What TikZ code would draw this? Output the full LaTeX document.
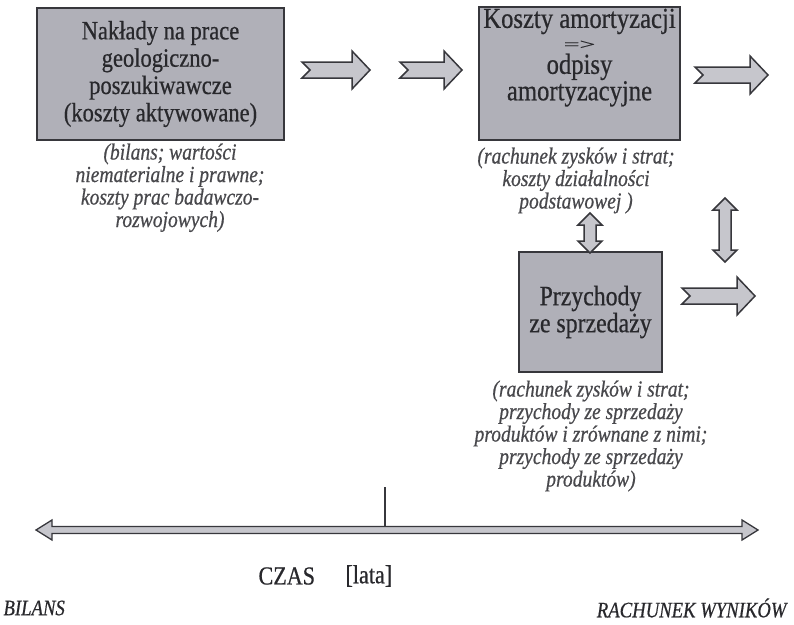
\documentclass[tikz,border=0pt]{standalone}
\usepackage[RGB]{xcolor}
\usepackage{fontspec}
\setmainfont{Liberation Serif}[FakeStretch=0.85, FakeBold=0.6]
\usepackage{tikz}
\usetikzlibrary{calc}
\definecolor{boxgray}{RGB}{176,176,184}
\definecolor{arrowgray}{RGB}{198,198,204}
\definecolor{edge}{RGB}{55,55,60}
\definecolor{ink}{RGB}{40,40,44}
\tikzset{
  box/.style={draw=edge, line width=2pt, fill=boxgray, text=ink, align=center, inner sep=0pt},
  boxtekst/.style={text=ink, align=center, inner sep=0pt, font=\fontsize{29}{23}\selectfont},
  opis/.style={text=ink!85, align=center, font=\fontsize{23}{22.5}\selectfont\itshape},
  arrowshape/.style={draw=edge, line width=1.5pt, fill=arrowgray, line join=miter},
}
\newcommand{\blockarrow}[4]{
  \coordinate (#1) at (#2,#3);
  \draw[arrowshape] (#1) ++(0,-8) -- ++(#4-18,0) -- ++(0,-11) -- ++(18,19) -- ++(-18,19) -- ++(0,-11) -- ++(-#4+18,0) -- ++(8,-8) -- cycle;
}
\newcommand{\vdoublearrow}[4]{
  \coordinate (#1) at (#2,#3);
  \draw[arrowshape] (#1) -- ++(12,12) -- ++(-6,0) -- ++(0,#4-24) -- ++(6,0) -- ++(-12,12) -- ++(-12,-12) -- ++(6,0) -- ++(0,-#4+24) -- ++(-6,0) -- cycle;
}

\begin{document}
\begin{tikzpicture}[x=1pt, y=-1pt]
\useasboundingbox (0,0) rectangle (794,624);
% prostokaty
\node[box, minimum width=247, minimum height=132, font=\fontsize{26.5}{27.3}\selectfont] (naklady) at (160.5,74)
  {Nakłady na prace\\geologiczno-\\poszukiwawcze\\(koszty aktywowane)};
\node[box, minimum width=201, minimum height=133] (amort) at (579.5,73.5) {};
\node[boxtekst, anchor=north] (amort-t1) at (579.5,8.5) {Koszty amortyzacji};
\node[boxtekst, font=\fontsize{15}{15}\selectfont] (amort-t2) at (579.5,45) {\scalebox{2.2}[1]{=>}};
\node[boxtekst, anchor=north] (amort-t3) at (579.5,53.5) {odpisy\\amortyzacyjne};
\node[box, minimum width=143, minimum height=120, font=\fontsize{28}{27}\selectfont] (przych) at (590.5,312)
  {Przychody\\ze sprzedaży};
% opisy
\node[opis, anchor=north] (naklady-opis) at (170,140)
  {(bilans; wartości\\niematerialne i prawne;\\koszty prac badawczo-\\rozwojowych)};
\node[opis, anchor=north] (amort-opis) at (576,144)
  {(rachunek zysków i strat;\\koszty działalności\\podstawowej )};
\node[opis, anchor=north] (przych-opis) at (591,377)
  {(rachunek zysków i strat;\\przychody ze sprzedaży\\produktów i zrównane z nimi;\\przychody ze sprzedaży\\produktów)};
% strzalki
\blockarrow{s1}{302}{70}{68}
\blockarrow{s2}{400}{70}{62}
\blockarrow{s3}{695}{75}{73}
\blockarrow{s4}{682}{296}{73}
\vdoublearrow{d1}{590}{213}{40}
\vdoublearrow{d2}{725}{198}{64}
% os czasu
\coordinate (osL) at (36,530);
\coordinate (osR) at (758,530);
\draw[arrowshape, line width=1.3pt] (osL) -- ++(16,-10) -- ++(0,6.5) -- ($(osR)+(-16,-3.5)$) -- ++(0,-6.5) -- (osR) -- ++(-16,10) -- ++(0,-6.5) -- ($(osL)+(16,3.5)$) -- ++(0,6.5) -- cycle;
\coordinate (kreska) at (385,487);
\draw[line width=1.2pt, edge] (kreska) -- (kreska |- 0,526);
\node[font=\fontsize{26}{26}\selectfont, text=ink, anchor=west] (czas) at (255,576) {CZAS};
\node[font=\fontsize{26}{26}\selectfont, text=ink, anchor=west] (lata) at (342,576) {[lata]};
\node[font=\fontsize{22}{22}\selectfont\itshape, text=ink, anchor=west] (bilans) at (0,608) {BILANS};
\node[font=\fontsize{22}{22}\selectfont\itshape, text=ink, anchor=east] (wyniki) at (790,608) {RACHUNEK WYNIKÓW};
\end{tikzpicture}
\end{document}
